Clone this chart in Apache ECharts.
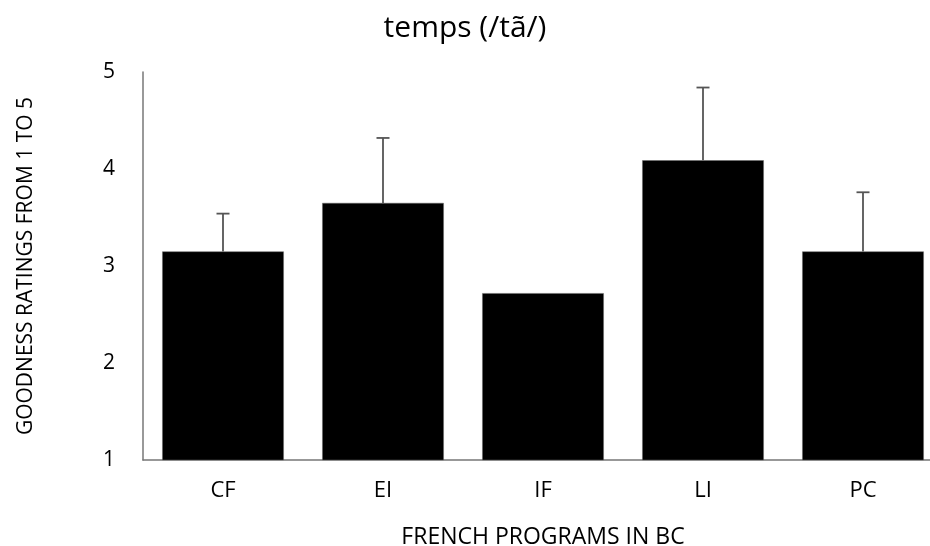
<!DOCTYPE html>
<html>
<head>
<meta charset="utf-8">
<script src="https://cdn.jsdelivr.net/npm/echarts@6/dist/echarts.min.js"></script>
<style>html,body{margin:0;padding:0;background:#fff}#c{width:930px;height:546px}</style>
</head>
<body>
<div id="c"></div>
<script>
var categories = ['CF', 'EI', 'IF', 'LI', 'PC'];
var means = [3.15, 3.65, 2.72, 4.09, 3.15];
var errors = [0.39, 0.67, 0, 0.75, 0.61];
var yTicks = [1, 2, 3, 4, 5];

var chart = echarts.init(document.getElementById('c'));
var font = 'Open Sans';
chart.setOption({
  animation: false,
  title: {
    text: 'temps (/tã/)', left: 'center', top: 8,
    textStyle: { fontFamily: font, fontSize: 30, fontWeight: 'normal', color: '#000' }
  },
  grid: { left: 143, right: -13, top: 72, bottom: 86, containLabel: false, outerBoundsMode: 'none' },
  xAxis: {
    type: 'category', data: categories,
    name: 'FRENCH PROGRAMS IN BC', nameLocation: 'middle', nameGap: 66,
    nameTextStyle: { fontFamily: font, fontSize: 23, color: '#000' },
    axisLine: { lineStyle: { color: '#777', width: 1.5 } },
    axisTick: { show: false },
    axisLabel: { fontFamily: font, fontSize: 22, color: '#000', margin: 20 }
  },
  yAxis: {
    type: 'value', min: yTicks[0], max: yTicks[yTicks.length - 1], interval: 1,
    name: 'GOODNESS RATINGS FROM 1 TO 5', nameLocation: 'middle', nameGap: 106, nameRotate: 90,
    nameTextStyle: { fontFamily: font, fontSize: 21, color: '#000' },
    axisLine: { show: true, lineStyle: { color: '#777', width: 1.5 } },
    axisTick: { show: false },
    splitLine: { show: false },
    axisLabel: { fontFamily: font, fontSize: 21, color: '#000', margin: 28 }
  },
  series: [
    {
      type: 'bar', data: means, barWidth: '76%',
      itemStyle: { color: '#000', borderColor: '#666', borderWidth: 0.5 }
    },
    {
      type: 'custom',
      data: categories.map(function (c, i) { return [i, means[i], means[i] + errors[i]]; }),
      renderItem: function (params, api) {
        if (api.value(2) <= api.value(1)) return null;
        var lo = api.coord([api.value(0), api.value(1)]);
        var hi = api.coord([api.value(0), api.value(2)]);
        var style = { stroke: '#555', lineWidth: 1.8 };
        return {
          type: 'group', children: [
            { type: 'line', shape: { x1: lo[0], y1: lo[1], x2: hi[0], y2: hi[1] }, style: style },
            { type: 'line', shape: { x1: hi[0] - 6.5, y1: hi[1], x2: hi[0] + 6.5, y2: hi[1] }, style: style }
          ]
        };
      },
      z: 3
    }
  ]
});
</script>
</body>
</html>
